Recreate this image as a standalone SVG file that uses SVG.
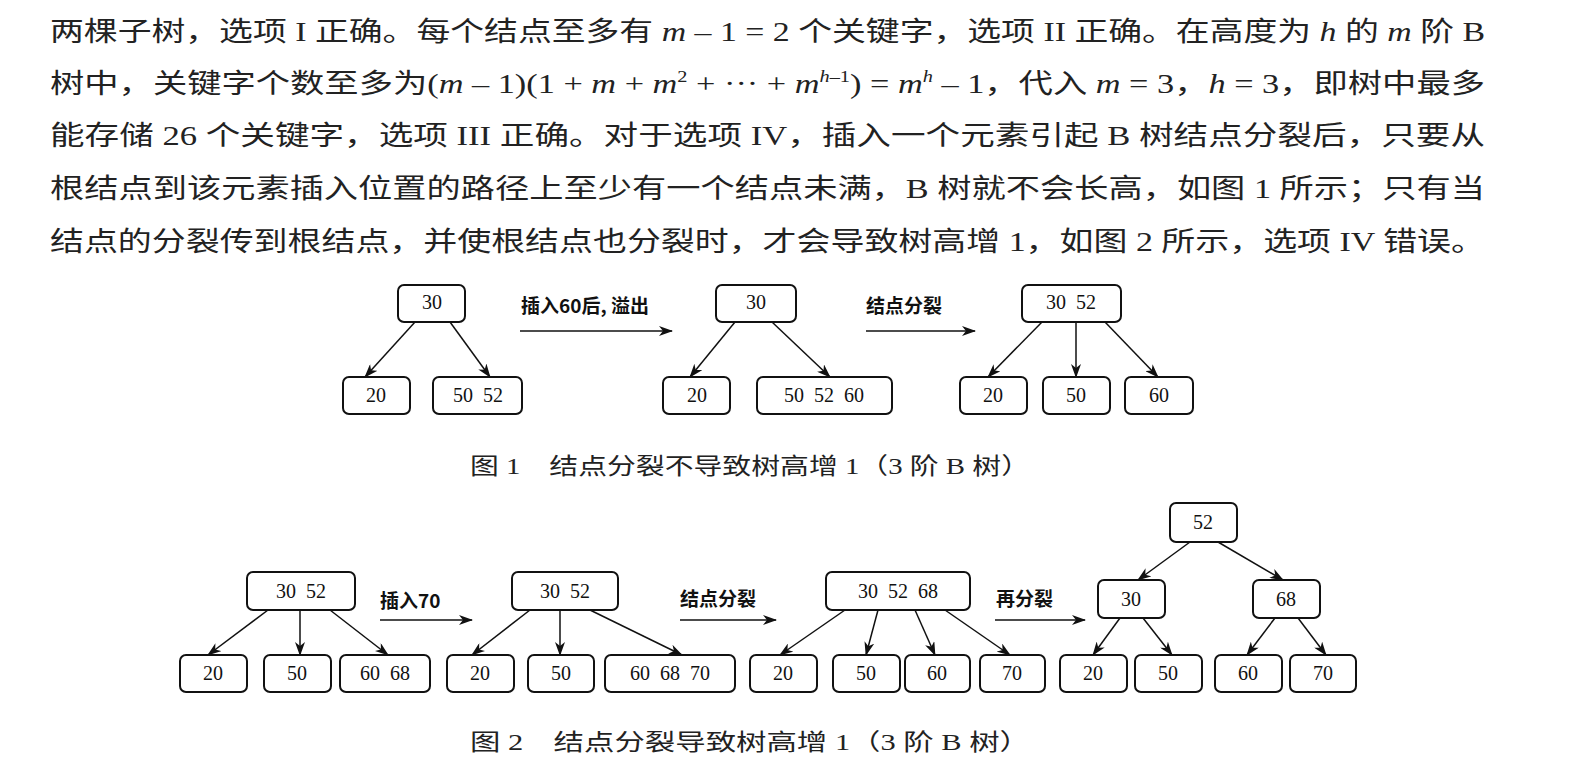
<svg xmlns="http://www.w3.org/2000/svg" width="1573" height="776" viewBox="0 0 1573 776">
<style>
.p{font-family:"Liberation Serif","Noto Sans CJK SC",serif;font-size:27px;fill:#222}
.i{font-style:italic}
.b rect{fill:#fff;stroke:#111;stroke-width:2}
.b text{font-family:"Liberation Serif",serif;font-size:20px;text-anchor:middle;fill:#111;white-space:pre}
.e line{stroke:#111;stroke-width:1.5;marker-end:url(#a)}
.l{font-family:"Noto Sans CJK SC","Liberation Serif",sans-serif;font-size:19px;font-weight:bold;fill:#111}
.c{font-family:"Liberation Serif","Noto Sans CJK SC",serif;font-size:23px;fill:#222}
</style>
<defs><marker id="a" markerWidth="14" markerHeight="10" refX="13" refY="5" orient="auto" markerUnits="userSpaceOnUse"><path d="M0,0 L14,5 L0,10 L4,5 Z" fill="#111"/></marker></defs>
<rect width="1573" height="776" fill="#fff"/>
<text class="p" x="50" y="41" textLength="1435" lengthAdjust="spacingAndGlyphs">两棵子树，选项 I 正确。每个结点至多有 <tspan class="i">m</tspan> – 1 = 2 个关键字，选项 II 正确。在高度为 <tspan class="i">h</tspan> 的 <tspan class="i">m</tspan> 阶 B</text>
<text class="p" x="50" y="93" textLength="1435" lengthAdjust="spacingAndGlyphs">树中，关键字个数至多为(<tspan class="i">m</tspan> – 1)(1 + <tspan class="i">m</tspan> + <tspan class="i">m</tspan><tspan font-size="16" dy="-11">2</tspan><tspan dy="11"> + ··· + </tspan><tspan class="i">m</tspan><tspan font-size="16" dy="-11" class="i">h</tspan><tspan font-size="16">–1</tspan><tspan dy="11">) = </tspan><tspan class="i">m</tspan><tspan font-size="16" dy="-11" class="i">h</tspan><tspan dy="11"> – 1，代入 </tspan><tspan class="i">m</tspan> = 3，<tspan class="i">h</tspan> = 3，即树中最多</text>
<text class="p" x="50" y="145" textLength="1435" lengthAdjust="spacingAndGlyphs">能存储 26 个关键字，选项 III 正确。对于选项 IV，插入一个元素引起 B 树结点分裂后，只要从</text>
<text class="p" x="50" y="198" textLength="1435" lengthAdjust="spacingAndGlyphs">根结点到该元素插入位置的路径上至少有一个结点未满，B 树就不会长高，如图 1 所示；只有当</text>
<text class="p" x="50" y="251" textLength="1435" lengthAdjust="spacingAndGlyphs">结点的分裂传到根结点，并使根结点也分裂时，才会导致树高增 1，如图 2 所示，选项 IV 错误。</text>

<g id="connectors" class="e">
<line x1="415" y1="322" x2="365" y2="377"/><line x1="450" y1="322" x2="490" y2="377"/>
<line x1="520" y1="331" x2="672" y2="331"/>
<line x1="735" y1="322" x2="690" y2="377"/><line x1="772" y1="322" x2="830" y2="377"/>
<line x1="866" y1="331" x2="975" y2="331"/>
<line x1="1042" y1="322" x2="988" y2="377"/><line x1="1076" y1="322" x2="1076" y2="377"/><line x1="1105" y1="322" x2="1158" y2="377"/>
<line x1="268" y1="610" x2="208" y2="655"/><line x1="300" y1="610" x2="300" y2="655"/><line x1="330" y1="610" x2="388" y2="655"/>
<line x1="380" y1="620" x2="472" y2="620"/>
<line x1="530" y1="610" x2="472" y2="655"/><line x1="560" y1="610" x2="560" y2="655"/><line x1="590" y1="610" x2="682" y2="655"/>
<line x1="680" y1="620" x2="776" y2="620"/>
<line x1="845" y1="610" x2="780" y2="655"/><line x1="878" y1="610" x2="866" y2="655"/><line x1="915" y1="610" x2="935" y2="655"/><line x1="945" y1="610" x2="1010" y2="655"/>
<line x1="995" y1="620" x2="1085" y2="620"/>
<line x1="1190" y1="542" x2="1138" y2="580"/><line x1="1218" y1="542" x2="1283" y2="580"/>
<line x1="1120" y1="618" x2="1093" y2="655"/><line x1="1143" y1="618" x2="1172" y2="655"/>
<line x1="1275" y1="618" x2="1247" y2="655"/><line x1="1298" y1="618" x2="1326" y2="655"/>
</g>
<text class="l" x="521" y="313">插入60后, 溢出</text>
<text class="l" x="866" y="313">结点分裂</text>
<text class="l" x="380" y="608">插入70</text>
<text class="l" x="680" y="606">结点分裂</text>
<text class="l" x="996" y="606">再分裂</text>

<g class="b">
<g id="f1a"><rect x="398" y="285" width="67" height="37" rx="6"/><text x="432" y="309">30</text></g>
<g id="f1b"><rect x="343" y="377" width="67" height="37" rx="6"/><text x="376" y="402">20</text></g>
<g id="f1c"><rect x="433" y="377" width="89" height="37" rx="6"/><text x="478" y="402">50  52</text></g>
<g id="f1d"><rect x="716" y="285" width="80" height="37" rx="6"/><text x="756" y="309">30</text></g>
<g id="f1e"><rect x="663" y="377" width="67" height="37" rx="6"/><text x="697" y="402">20</text></g>
<g id="f1f"><rect x="757" y="377" width="135" height="37" rx="6"/><text x="824" y="402">50  52  60</text></g>
<g id="f1g"><rect x="1022" y="285" width="99" height="37" rx="6"/><text x="1071" y="309">30  52</text></g>
<g id="f1h"><rect x="960" y="377" width="67" height="37" rx="6"/><text x="993" y="402">20</text></g>
<g id="f1i"><rect x="1043" y="377" width="67" height="37" rx="6"/><text x="1076" y="402">50</text></g>
<g id="f1j"><rect x="1125" y="377" width="68" height="37" rx="6"/><text x="1159" y="402">60</text></g>

<g id="f2a"><rect x="247" y="572" width="108" height="38" rx="6"/><text x="301" y="598">30  52</text></g>
<g id="f2b"><rect x="180" y="655" width="67" height="37" rx="6"/><text x="213" y="680">20</text></g>
<g id="f2c"><rect x="264" y="655" width="67" height="37" rx="6"/><text x="297" y="680">50</text></g>
<g id="f2d"><rect x="340" y="655" width="90" height="37" rx="6"/><text x="385" y="680">60  68</text></g>
<g id="f2e"><rect x="512" y="572" width="106" height="38" rx="6"/><text x="565" y="598">30  52</text></g>
<g id="f2f"><rect x="447" y="655" width="67" height="37" rx="6"/><text x="480" y="680">20</text></g>
<g id="f2g"><rect x="528" y="655" width="66" height="37" rx="6"/><text x="561" y="680">50</text></g>
<g id="f2h"><rect x="605" y="655" width="130" height="37" rx="6"/><text x="670" y="680">60  68  70</text></g>
<g id="f2i"><rect x="826" y="572" width="144" height="38" rx="6"/><text x="898" y="598">30  52  68</text></g>
<g id="f2j"><rect x="750" y="655" width="67" height="37" rx="6"/><text x="783" y="680">20</text></g>
<g id="f2k"><rect x="833" y="655" width="67" height="37" rx="6"/><text x="866" y="680">50</text></g>
<g id="f2l"><rect x="905" y="655" width="65" height="37" rx="6"/><text x="937" y="680">60</text></g>
<g id="f2m"><rect x="980" y="655" width="65" height="37" rx="6"/><text x="1012" y="680">70</text></g>
<g id="f2n"><rect x="1170" y="503" width="67" height="39" rx="6"/><text x="1203" y="529">52</text></g>
<g id="f2o"><rect x="1098" y="580" width="67" height="38" rx="6"/><text x="1131" y="606">30</text></g>
<g id="f2p"><rect x="1253" y="580" width="67" height="38" rx="6"/><text x="1286" y="606">68</text></g>
<g id="f2q"><rect x="1060" y="655" width="67" height="37" rx="6"/><text x="1093" y="680">20</text></g>
<g id="f2r"><rect x="1135" y="655" width="67" height="37" rx="6"/><text x="1168" y="680">50</text></g>
<g id="f2s"><rect x="1215" y="655" width="67" height="37" rx="6"/><text x="1248" y="680">60</text></g>
<g id="f2t"><rect x="1290" y="655" width="66" height="37" rx="6"/><text x="1323" y="680">70</text></g>
</g>
<text class="c" x="470" y="474" textLength="560" lengthAdjust="spacingAndGlyphs">图 1　结点分裂不导致树高增 1（3 阶 B 树）</text>
<text class="c" x="470" y="750" textLength="560" lengthAdjust="spacingAndGlyphs">图 2　结点分裂导致树高增 1（3 阶 B 树）</text>
</svg>
